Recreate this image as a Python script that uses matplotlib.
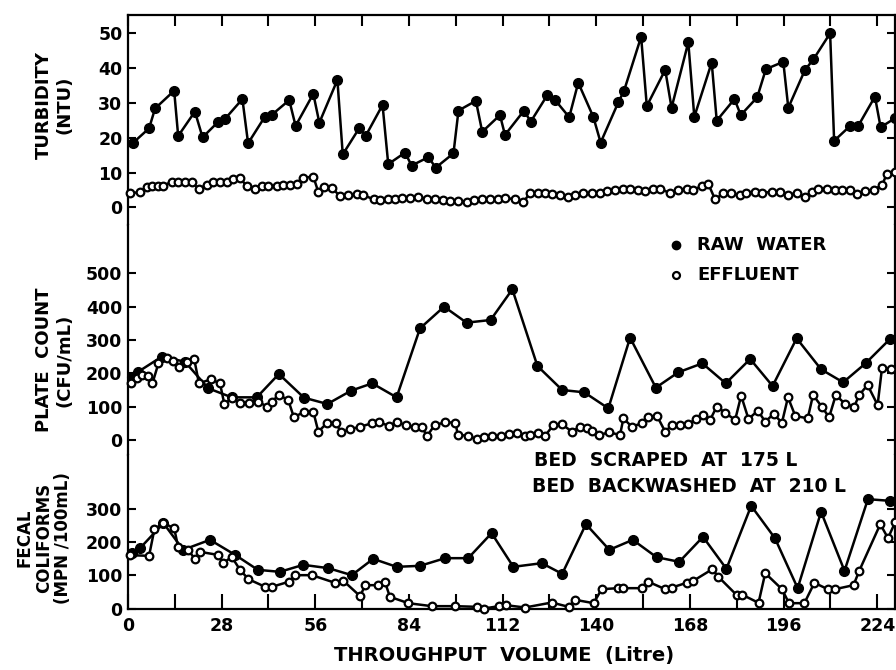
import numpy as np
import matplotlib.pyplot as plt
from matplotlib.ticker import MultipleLocator

# turbidity (NTU)
turb_raw_x = [1.6, 6.3, 8.1, 13.8, 15.0, 20.0, 22.3, 27.0, 29.0, 34.2, 35.9, 40.9, 42.9, 48.2, 50.1,
              55.4, 57.2, 62.6, 64.2, 69.1, 71.1, 76.1, 77.8, 82.8, 84.8, 89.8, 92.0, 97.3, 98.8,
              104.0, 105.9, 111.2, 112.7, 118.4, 120.4, 125.4, 127.7, 131.9, 134.6, 139.1, 141.3,
              146.6, 148.3, 153.4, 155.1, 160.6, 162.5, 167.5, 169.3, 174.5, 176.0, 181.3, 183.2,
              188.1, 190.7, 195.9, 197.4, 202.4, 204.9, 209.9, 211.1, 215.9, 218.3, 223.3, 225.0, 229.3]
turb_raw_y = [18.6, 22.7, 28.4, 33.5, 20.5, 27.5, 20.1, 24.6, 25.4, 31.1, 18.4, 26.0, 26.5, 30.8, 23.4,
              32.6, 24.3, 36.6, 15.2, 22.7, 20.6, 29.4, 12.4, 15.7, 12.0, 14.4, 11.4, 15.5, 27.8,
              30.6, 21.7, 26.5, 20.8, 27.8, 24.6, 32.3, 30.8, 25.9, 35.8, 26.0, 18.6,
              30.2, 33.5, 49.0, 29.1, 39.5, 28.6, 47.4, 26.0, 41.6, 24.9, 31.1, 26.5,
              31.6, 39.7, 41.8, 28.6, 39.5, 42.5, 50.0, 19.1, 23.4, 23.4, 31.8, 23.0, 25.6]

turb_eff_x = [0.6, 3.6, 5.6, 7.1, 9.1, 10.6, 13.1, 15.0, 17.0, 19.0, 21.2, 23.5, 25.5, 27.5, 29.5,
              31.5, 33.5, 35.5, 38.0, 40.0, 42.0, 44.4, 46.4, 48.4, 50.4, 52.4, 55.4, 56.9, 58.7,
              60.9, 63.4, 65.9, 68.4, 70.4, 73.4, 75.3, 77.8, 79.8, 81.8, 84.3, 86.8, 89.3, 91.8,
              94.3, 96.3, 98.8, 101.3, 103.5, 105.7, 108.2, 110.7, 112.7, 115.7, 118.2, 120.2,
              122.7, 124.7, 126.7, 129.1, 131.6, 133.6, 136.1, 138.6, 141.1, 143.1, 145.6, 148.1,
              150.1, 152.6, 154.6, 157.1, 159.1, 162.1, 164.5, 167.0, 169.0, 171.5, 173.5, 175.5,
              178.0, 180.4, 182.9, 184.9, 187.4, 189.4, 192.4, 194.9, 197.4, 199.9, 202.4, 204.4,
              206.4, 208.9, 211.4, 213.4, 215.9, 217.9, 220.4, 222.9, 225.4, 226.9, 229.4]
turb_eff_y = [4.0, 4.4, 5.9, 6.0, 6.0, 6.2, 7.4, 7.4, 7.4, 7.2, 5.3, 6.5, 7.2, 7.2, 7.4,
              8.1, 8.5, 6.0, 5.3, 6.2, 6.2, 6.2, 6.4, 6.5, 6.7, 8.5, 8.8, 4.4, 5.9,
              5.6, 3.2, 3.5, 3.7, 3.5, 2.3, 2.1, 2.3, 2.4, 2.7, 2.7, 3.0, 2.4, 2.3,
              2.1, 1.9, 1.9, 1.6, 2.1, 2.3, 2.4, 2.4, 2.7, 2.3, 1.6, 4.0,
              4.0, 4.0, 3.8, 3.5, 3.0, 3.5, 4.0, 4.0, 4.2, 4.7, 5.0, 5.4,
              5.4, 5.0, 4.7, 5.4, 5.4, 4.0, 5.0, 5.4, 5.0, 6.1, 6.7, 2.3,
              4.0, 4.0, 3.5, 4.2, 4.5, 4.0, 4.5, 4.5, 3.5, 4.2, 3.0, 4.5,
              5.4, 5.4, 5.0, 5.0, 5.0, 3.8, 4.7, 5.0, 6.4, 9.6, 10.2]

# plate count (CFU/mL)
pc_raw_x = [1.1, 3.1, 10.1, 17.0, 24.0, 31.0, 38.5, 45.1, 52.6, 59.6, 66.7, 73.0, 80.3, 87.3,
            94.5, 101.2, 108.4, 114.9, 122.4, 129.8, 136.4, 143.6, 150.1, 157.8, 164.5, 171.7,
            178.7, 186.0, 192.7, 199.9, 207.2, 213.8, 220.5, 227.8]
pc_raw_y = [190, 205, 250, 235, 155, 128, 128, 198, 127, 108, 148, 170, 128, 335,
            400, 352, 360, 452, 222, 150, 143, 95, 307, 157, 203, 230,
            170, 243, 162, 305, 212, 173, 230, 303]

pc_eff_x = [0.9, 2.6, 4.1, 5.9, 7.3, 9.1, 11.6, 13.5, 15.2, 17.5, 19.8, 21.2, 24.8, 27.5, 28.8,
            31.0, 33.5, 36.2, 39.0, 41.5, 43.0, 45.1, 47.9, 49.6, 52.7, 55.4, 56.9, 59.4, 62.1,
            63.7, 66.4, 69.4, 72.9, 75.1, 77.9, 80.4, 83.1, 85.7, 87.9, 89.4, 91.7, 94.9, 97.9,
            98.6, 101.7, 104.4, 106.4, 108.9, 111.4, 113.9, 116.2, 118.7, 120.2, 122.7, 124.7,
            127.2, 129.8, 132.7, 135.1, 137.1, 138.8, 140.8, 143.9, 147.1, 148.1, 150.6, 153.6,
            155.6, 158.1, 160.6, 162.6, 165.1, 167.5, 169.7, 172.0, 174.0, 176.0, 178.5, 181.5,
            183.3, 185.5, 188.3, 190.5, 193.0, 195.5, 197.3, 199.5, 203.2, 204.8, 207.4, 209.6,
            211.6, 214.4, 217.1, 218.6, 221.1, 224.1, 225.4, 228.1]
pc_eff_y = [170, 185, 195, 192, 170, 230, 245, 238, 218, 235, 243, 170, 182, 170, 108,
            125, 112, 112, 115, 100, 115, 135, 120, 68, 85, 85, 25, 50, 52,
            23, 32, 40, 50, 53, 43, 53, 45, 38, 38, 12, 45, 53, 52,
            15, 13, 2, 10, 12, 12, 18, 20, 12, 15, 20, 13,
            45, 47, 25, 40, 35, 28, 15, 23, 15, 65, 40, 50,
            70, 73, 25, 45, 45, 48, 62, 75, 60, 100, 82, 60,
            133, 63, 88, 55, 78, 52, 128, 72, 65, 135, 100, 68,
            135, 108, 100, 135, 165, 105, 215, 213]

# fecal coliforms (MPN/100mL)
fc_raw_x = [1.1, 3.6, 10.6, 16.5, 24.5, 32.0, 38.8, 45.4, 52.4, 59.9, 66.9, 73.3, 80.3, 87.3,
            94.8, 101.7, 108.7, 115.2, 123.7, 129.8, 136.9, 143.9, 150.9, 158.0, 164.8, 171.9,
            178.9, 186.3, 193.4, 200.2, 207.2, 214.2, 221.2, 227.8]
fc_raw_y = [166, 181, 256, 176, 206, 161, 116, 110, 131, 121, 100, 149, 125, 128,
            151, 151, 226, 125, 136, 104, 253, 176, 206, 154, 140, 215,
            119, 308, 211, 61, 290, 113, 328, 323]

fc_eff_x = [0.6, 6.3, 7.9, 10.6, 13.8, 15.0, 18.0, 20.0, 21.5, 26.8, 28.5, 31.0, 33.5, 36.0,
            41.0, 43.0, 48.0, 50.0, 55.0, 61.9, 64.4, 69.4, 70.9, 74.8, 76.8, 78.3, 83.8,
            90.8, 97.8, 104.4, 106.4, 110.9, 112.9, 118.7, 126.7, 131.7, 133.7, 139.2, 141.6,
            146.6, 148.1, 153.6, 155.6, 160.6, 162.6, 167.0, 169.0, 174.7, 176.5, 182.0, 183.5,
            188.5, 190.5, 195.5, 197.6, 202.2, 205.2, 209.2, 211.4, 216.9, 218.6, 224.9, 227.2, 229.4]
fc_eff_y = [160, 158, 238, 256, 241, 184, 176, 148, 170, 161, 136, 155, 116, 88,
            65, 65, 80, 100, 100, 77, 83, 37, 70, 70, 80, 35, 16,
            7, 7, 5, 0, 7, 10, 3, 18, 5, 26, 16, 58,
            61, 61, 61, 80, 58, 63, 77, 83, 118, 95, 40, 42,
            17, 106, 58, 16, 16, 77, 58, 58, 70, 113, 253, 211, 260]

x_ticks = list(range(0, 225, 28))

W, H = 896, 670
fig = plt.figure(figsize=(W / 100, H / 100), dpi=100)
plt.rcParams['font.family'] = 'DejaVu Sans'
plt.rcParams['font.weight'] = 'bold'


def px_rect(top, bottom, left=128, right=895):
    return [left / W, 1 - bottom / H, (right - left) / W, (bottom - top) / H]


ax1 = fig.add_axes(px_rect(15, 225))
ax2 = fig.add_axes(px_rect(225, 455))
ax3 = fig.add_axes(px_rect(455, 608.5))

raw_kw = dict(color='black', lw=1.8, marker='o', ms=7, mfc='black', mec='black', clip_on=False)
eff_kw = dict(color='black', lw=1.8, marker='o', ms=5.5, mfc='white', mec='black', mew=1.6, clip_on=False)

ax1.plot(turb_raw_x, turb_raw_y, zorder=3, **raw_kw)
ax1.plot(turb_eff_x, turb_eff_y, zorder=3, **eff_kw)
ax2.plot(pc_raw_x, pc_raw_y, zorder=3, **raw_kw)
ax2.plot(pc_eff_x, pc_eff_y, zorder=3, **eff_kw)
ax3.plot(fc_raw_x, fc_raw_y, zorder=3, **raw_kw)
ax3.plot(fc_eff_x, fc_eff_y, zorder=3, **eff_kw)

xmax = (895 - 128) / 3.345
ax1.set_ylim((207.3 - 225) / 3.48, (207.3 - 15) / 3.48)
ax2.set_ylim((440 - 455) * 3.0, (440 - 225) * 3.0)
ax3.set_ylim(0, (608.5 - 455) * 3.0)
ax1.set_yticks(range(0, 51, 10))
ax2.set_yticks(range(0, 501, 100))
ax3.set_yticks(range(0, 301, 100))

for ax in (ax1, ax2, ax3):
    ax.set_xlim(0, xmax)
    for s in ax.spines.values():
        s.set_linewidth(1.6)
    ax.spines['top'].set_visible(False)
    ax.spines['bottom'].set_visible(False)
    ax.tick_params(axis='y', direction='in', left=True, right=True, length=6, width=1.5,
                   labelsize=12.5, pad=4)
    ax.tick_params(axis='x', bottom=False, top=False, labelbottom=False)
    for lab in ax.get_yticklabels():
        lab.set_fontweight('bold')

ax1.spines['top'].set_visible(True)
ax1.xaxis.set_major_locator(MultipleLocator(14))
ax1.tick_params(axis='x', top=True, direction='in', length=8, width=1.5)

ax3.spines['bottom'].set_visible(True)
ax3.set_xticks(x_ticks)
ax3.xaxis.set_minor_locator(MultipleLocator(14))
ax3.tick_params(axis='x', which='both', bottom=True, labelbottom=True, direction='in',
                length=11, width=1.5, labelsize=12.5, pad=6)
for lab in ax3.get_xticklabels():
    lab.set_fontweight('bold')

# axis titles
fig.text(54 / W, 1 - 105 / H, 'TURBIDITY\n(NTU)', rotation=90, ha='center', va='center',
         fontsize=13, fontweight='bold', linespacing=1.15, multialignment='center')
fig.text(54 / W, 1 - 360 / H, 'PLATE  COUNT\n(CFU/mL)', rotation=90, ha='center', va='center',
         fontsize=13, fontweight='bold', linespacing=1.15, multialignment='center')
fig.text(44 / W, 1 - 538 / H, 'FECAL\nCOLIFORMS\n(MPN /100mL)', rotation=90, ha='center',
         va='center', fontsize=12, fontweight='bold', linespacing=1.1, multialignment='center')
fig.text(504 / W, 1 - 655 / H, 'THROUGHPUT  VOLUME  (Litre)', ha='center', va='center',
         fontsize=14, fontweight='bold')

# legend
ax_leg = fig.add_axes([0, 0, 1, 1], facecolor='none')
ax_leg.set_xlim(0, W)
ax_leg.set_ylim(H, 0)
ax_leg.axis('off')
ax_leg.plot([676], [245], 'o', color='black', ms=6)
ax_leg.plot([676], [275], 'o', mfc='white', mec='black', mew=1.6, ms=5)
ax_leg.text(697, 245, 'RAW  WATER', va='center', ha='left', fontsize=13, fontweight='bold')
ax_leg.text(697, 275, 'EFFLUENT', va='center', ha='left', fontsize=13, fontweight='bold')

# notes
ax_leg.text(534, 461, 'BED  SCRAPED  AT  175 L', va='center', ha='left', fontsize=13.5,
            fontweight='bold')
ax_leg.text(532, 486, 'BED  BACKWASHED  AT  210 L', va='center', ha='left', fontsize=13.5,
            fontweight='bold')

fig.savefig('out.png', dpi=100)
